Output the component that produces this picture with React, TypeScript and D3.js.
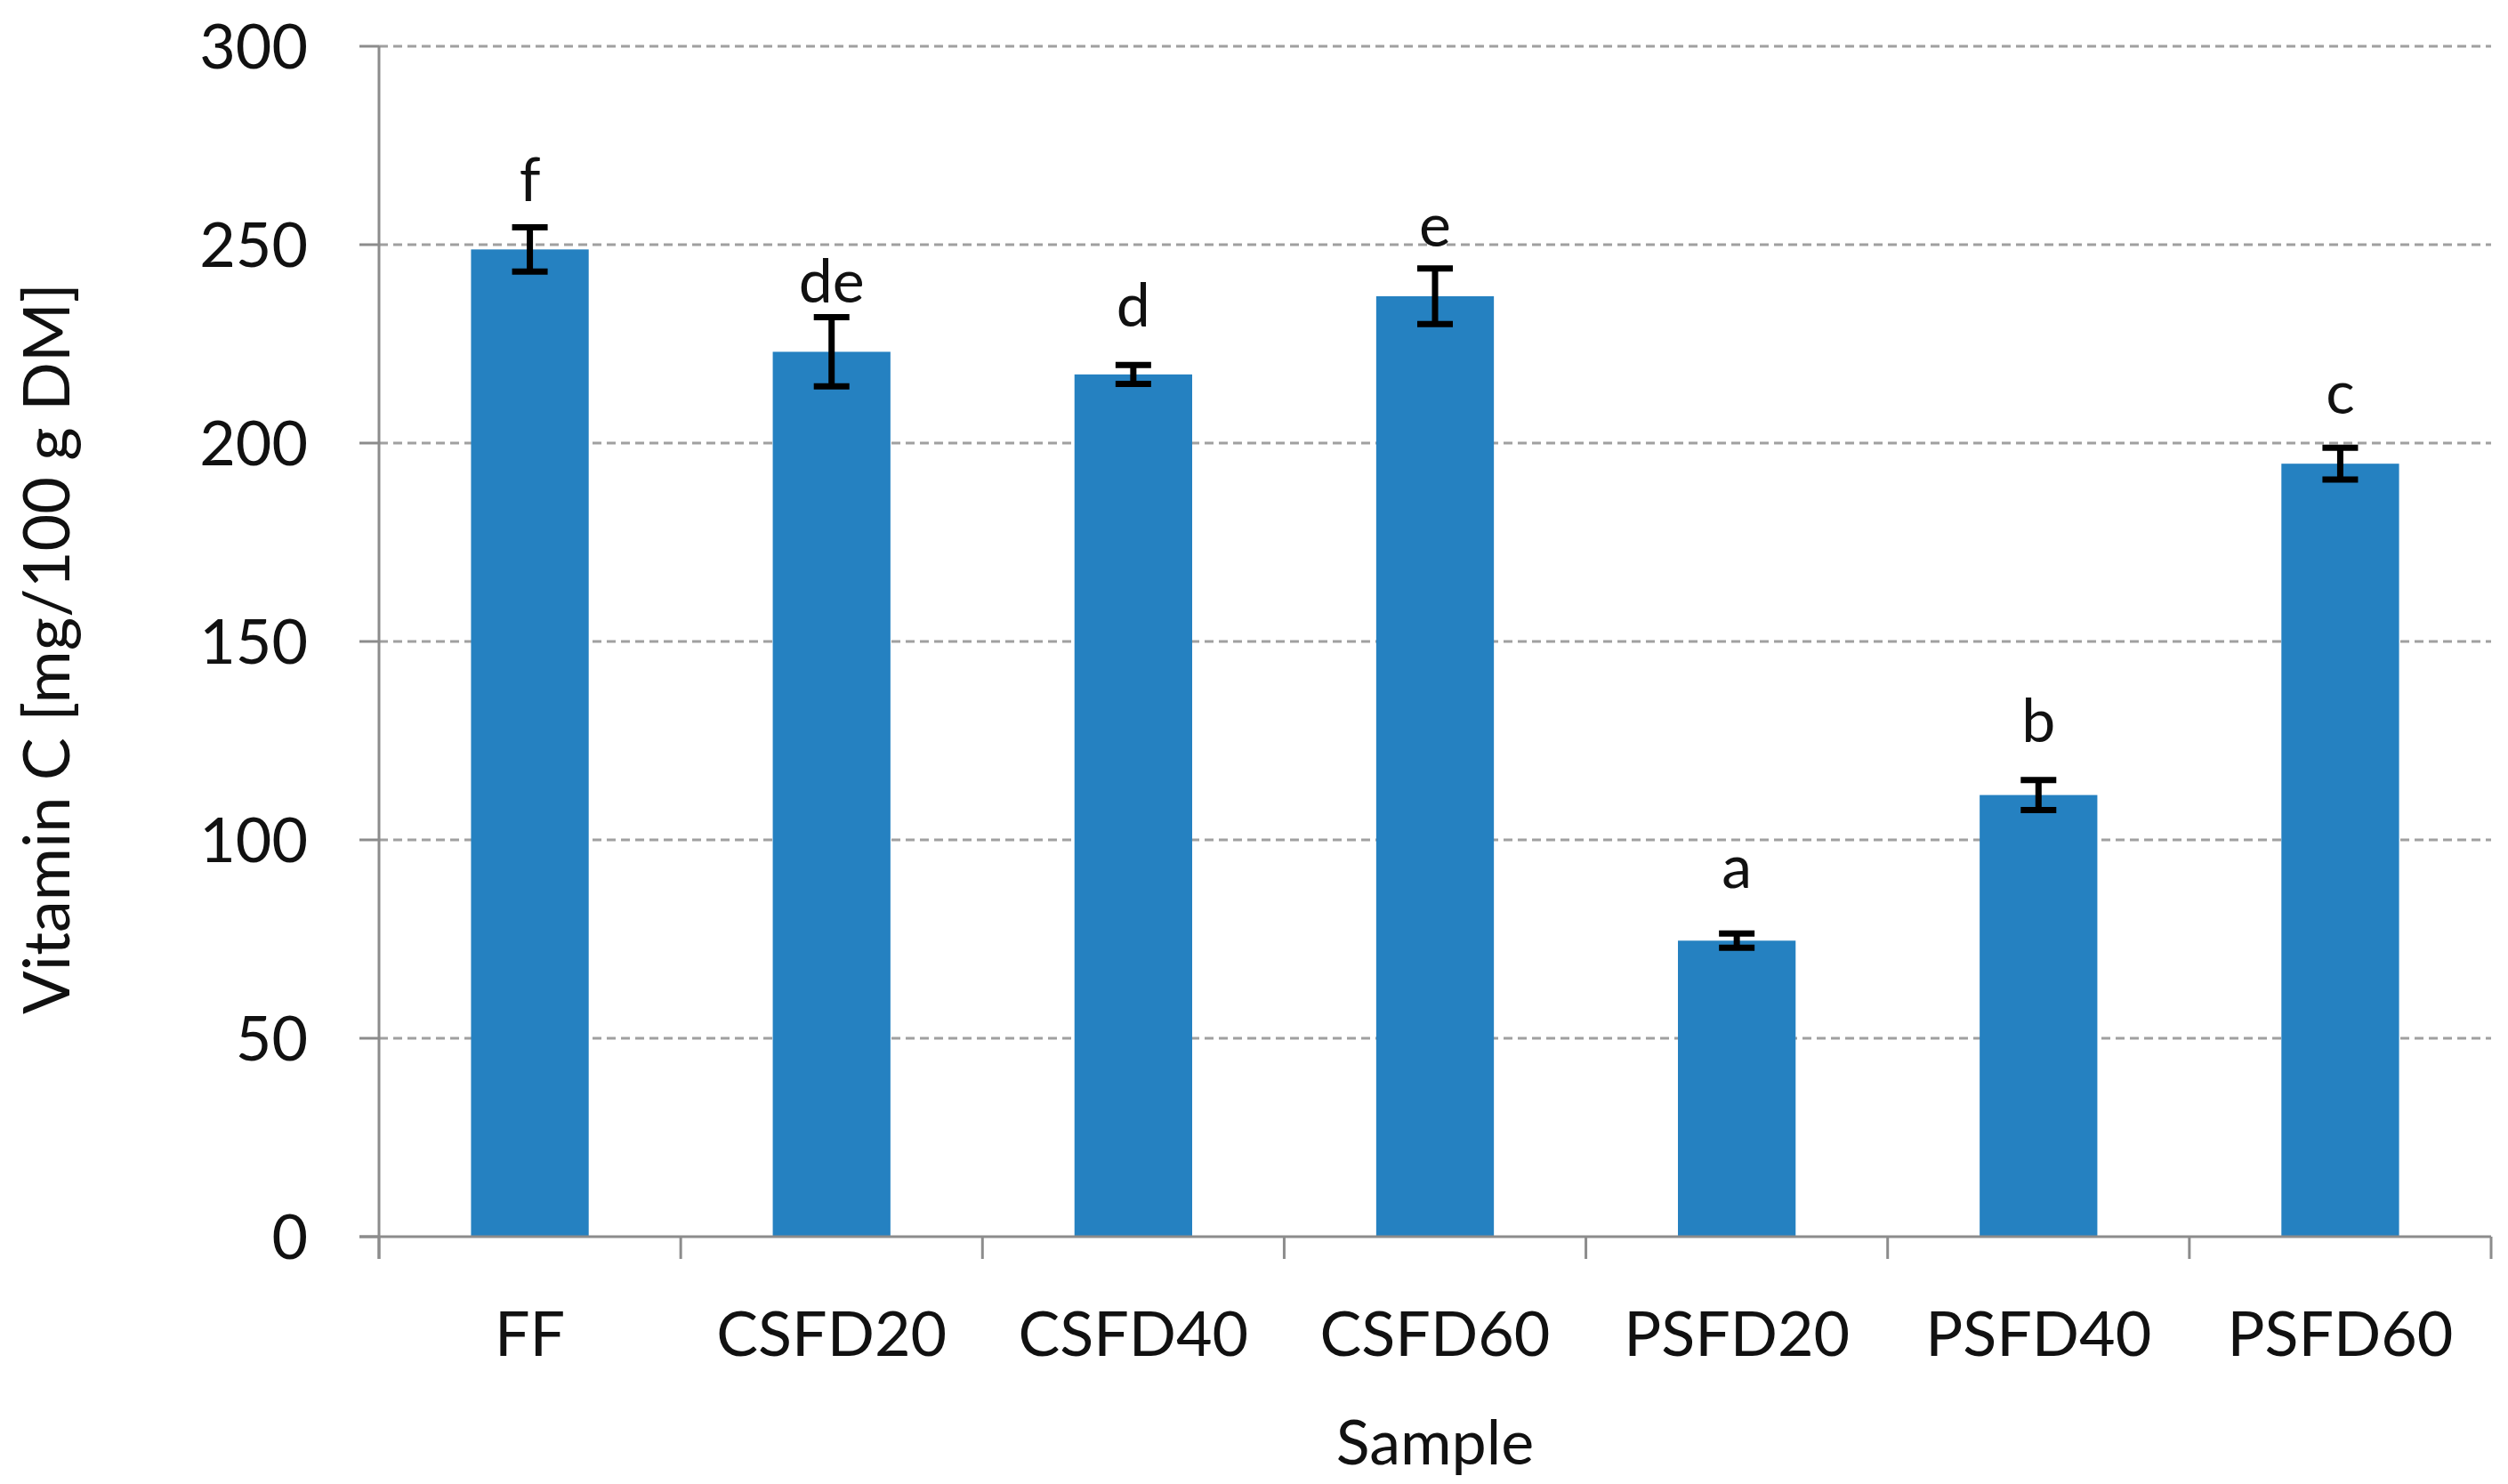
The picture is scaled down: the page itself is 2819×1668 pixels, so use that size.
import { useEffect } from 'react';
import * as d3 from 'd3';

const samples = ['FF', 'CSFD20', 'CSFD40', 'CSFD60', 'PSFD20', 'PSFD40', 'PSFD60'];
const vitaminC = [248.8, 223.0, 217.3, 237.0, 74.6, 111.3, 194.8];
const errors = [5.6, 8.7, 2.4, 7.0, 1.8, 3.8, 4.0];
const groupLetters = ['f', 'de', 'd', 'e', 'a', 'b', 'c'];
// where each letter sits, in data units (baseline)
const letterPos = [260.9, 235.5, 229.4, 249.6, 87.9, 124.6, 207.3];
const yTicks = [0, 50, 100, 150, 200, 250, 300];

const W = 2819;
const H = 1668;
const margin = { top: 52, right: 19, bottom: 278, left: 426 };
const font = 'Lato, "Open Sans", sans-serif';

export default function App() {
    useEffect(() => {
        document.body.style.margin = '0';
    }, []);

    const innerW = W - margin.left - margin.right;
    const innerH = H - margin.top - margin.bottom;

    const x = d3.scaleBand<string>()
        .domain(samples)
        .range([0, innerW])
        .paddingInner(0.61)
        .paddingOuter(0.305);

    const y = d3.scaleLinear().domain([0, 300]).range([innerH, 0]);

    const step = x.step();
    const boundaries = d3.range(samples.length + 1).map(i => i * step);
    const capW = 40;

    return (
        <svg width={W} height={H} style={{ display: 'block', background: '#fff' }} fontFamily={font}>
            <g transform={`translate(${margin.left},${margin.top})`}>
                {/* grid lines */}
                {yTicks.filter(t => t > 0).map(t => (
                    <line key={'g' + t} x1={0} x2={innerW} y1={y(t)} y2={y(t)}
                        stroke="#a0a0a0" strokeWidth={3} strokeDasharray="10,6" />
                ))}

                {/* bars */}
                {samples.map((s, i) => (
                    <rect key={s} x={x(s)} y={y(vitaminC[i])} width={x.bandwidth()}
                        height={innerH - y(vitaminC[i])} fill="#2581c1" />
                ))}

                {/* error bars */}
                {samples.map((s, i) => {
                    const cx = (x(s) as number) + x.bandwidth() / 2;
                    const hi = y(vitaminC[i] + errors[i]);
                    const lo = y(vitaminC[i] - errors[i]);
                    return (
                        <g key={'e' + s} stroke="#000" strokeWidth={7}>
                            <line x1={cx} x2={cx} y1={hi} y2={lo} />
                            <line x1={cx - capW / 2} x2={cx + capW / 2} y1={hi} y2={hi} />
                            <line x1={cx - capW / 2} x2={cx + capW / 2} y1={lo} y2={lo} />
                        </g>
                    );
                })}

                {/* significance letters */}
                {samples.map((s, i) => (
                    <text key={'l' + s} x={(x(s) as number) + x.bandwidth() / 2} y={y(letterPos[i])}
                        textAnchor="middle" fontSize={68} fill="#111">{groupLetters[i]}</text>
                ))}

                {/* y axis */}
                <line x1={0} x2={0} y1={0} y2={innerH + 25} stroke="#8c8c8c" strokeWidth={3} />
                {yTicks.map(t => (
                    <g key={'y' + t}>
                        <line x1={-22} x2={0} y1={y(t)} y2={y(t)} stroke="#8c8c8c" strokeWidth={3} />
                        <text x={-80} y={y(t)} dy="0.36em" textAnchor="end" fontSize={70} fill="#111">{t}</text>
                    </g>
                ))}

                {/* x axis */}
                <line x1={-22} x2={innerW} y1={innerH} y2={innerH} stroke="#8c8c8c" strokeWidth={3} />
                {boundaries.map((b, i) => (
                    <line key={'t' + i} x1={b} x2={b} y1={innerH} y2={innerH + 25} stroke="#8c8c8c" strokeWidth={3} />
                ))}
                {samples.map(s => (
                    <text key={'c' + s} x={(x(s) as number) + x.bandwidth() / 2} y={innerH + 134}
                        textAnchor="middle" fontSize={70} fill="#111">{s}</text>
                ))}

                <text x={innerW / 2} y={innerH + 256} textAnchor="middle" fontSize={70} fill="#111">Sample</text>

                <text transform={`translate(${-margin.left + 78},${innerH / 2 + 8}) rotate(-90)`}
                    textAnchor="middle" fontSize={72} fill="#111">Vitamin C [mg/100 g DM]</text>
            </g>
        </svg>
    );
}
